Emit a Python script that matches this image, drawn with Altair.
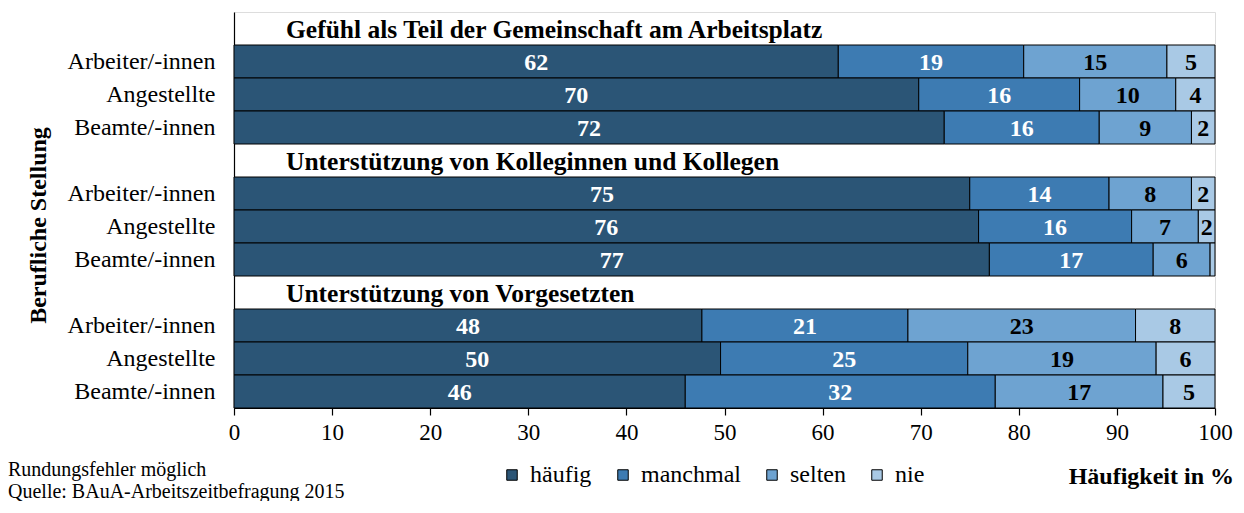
import altair as alt
import pandas as pd

categories = ["häufig", "manchmal", "selten", "nie"]
colors = ["#2b5576", "#3d7bb2", "#6ea3d1", "#a9c9e5"]
label_colors = ["white", "white", "black", "black"]
groups = [
    "Gefühl als Teil der Gemeinschaft am Arbeitsplatz",
    "Unterstützung von Kolleginnen und Kollegen",
    "Unterstützung von Vorgesetzten",
]
positions = ["Arbeiter/-innen", "Angestellte", "Beamte/-innen"]

# values per bar (3 groups x 3 positions), in %
haeufig = [61.6, 69.8, 72.4, 75.0, 75.9, 77.0, 47.7, 49.6, 46.0]
manchmal = [18.9, 16.4, 15.8, 14.2, 15.6, 16.7, 21.0, 25.2, 31.6]
selten = [14.6, 9.8, 9.4, 8.4, 6.8, 5.8, 23.2, 19.2, 17.1]
nie = [4.9, 4.0, 2.4, 2.4, 1.7, 0.5, 8.1, 6.0, 5.3]
series = [haeufig, manchmal, selten, nie]

xticks = list(range(0, 101, 10))
notes = ["Rundungsfehler möglich", "Quelle: BAuA-Arbeitszeitbefragung 2015"]

FONT = "Liberation Serif"

row_order = []
title_rows = []
bar_rows = []
for gi, g in enumerate(groups):
    tid = f"g{gi}"
    row_order.append(tid)
    title_rows.append({"row": tid, "title": g})
    for pi, p in enumerate(positions):
        rid = f"g{gi}|{p}"
        row_order.append(rid)
        idx = gi * 3 + pi
        start = 0.0
        for ci, c in enumerate(categories):
            v = series[ci][idx]
            bar_rows.append({
                "row": rid, "cat": c, "value": v,
                "start": start, "end": start + v, "mid": start + v / 2,
                "label": str(int(round(v))) if v >= 1 else "",
                "tcolor": label_colors[ci],
            })
            start += v

bars_df = pd.DataFrame(bar_rows)
titles_df = pd.DataFrame(title_rows)

yscale = alt.Scale(domain=row_order, paddingInner=0, paddingOuter=0)
xscale = alt.Scale(domain=[0, 100], nice=False)

yaxis = alt.Axis(
    title="Berufliche Stellung",
    labelExpr="indexof(datum.value, '|') >= 0 ? split(datum.value, '|')[1] : ''",
    ticks=False, labelPadding=19, labelFont=FONT, labelFontSize=24,
    labelColor="black", domainColor="black", domainWidth=1.2,
    titleFont=FONT, titleFontSize=24, titleFontWeight="bold", titleColor="black",
    titleX=-196, titleY=213, titleAngle=270, titleAlign="center", titleBaseline="middle",
)
xaxis = alt.Axis(
    values=xticks, title=None, tickSize=7, tickColor="black", tickWidth=1.2,
    domainColor="black", domainWidth=1.2, labelFont=FONT, labelFontSize=23,
    labelColor="black", labelPadding=6, grid=False, labelFlush=False,
)

bars = alt.Chart(bars_df).mark_bar(stroke="black", strokeWidth=1).encode(
    y=alt.Y("row:N", scale=yscale, axis=yaxis, sort=row_order),
    x=alt.X("start:Q", scale=xscale, axis=xaxis),
    x2="end:Q",
    color=alt.Color(
        "cat:N",
        scale=alt.Scale(domain=categories, range=colors),
        sort=categories,
        legend=alt.Legend(
            orient="none", legendX=266, legendY=451, direction="horizontal",
            title=None, symbolType="square", symbolSize=110,
            symbolStrokeColor="black", symbolStrokeWidth=1,
            labelFont=FONT, labelFontSize=24, labelColor="black",
            columnPadding=19, labelOffset=6,
        ),
    ),
)

labels = alt.Chart(bars_df).mark_text(
    font=FONT, fontSize=24, fontWeight="bold", baseline="middle", align="center", dy=1
).encode(
    y=alt.Y("row:N", scale=yscale, sort=row_order),
    x=alt.X("mid:Q", scale=xscale),
    text="label:N",
    color=alt.Color("tcolor:N", scale=None),
)

titles = alt.Chart(titles_df).mark_text(
    font=FONT, fontSize=25.5, fontWeight="bold", baseline="middle", align="left",
    color="black", dy=1,
).encode(
    y=alt.Y("row:N", scale=yscale, sort=row_order),
    x=alt.value(52),
    text="title:N",
)

note1 = alt.Chart(pd.DataFrame({"t": [notes[0]]})).mark_text(
    font=FONT, fontSize=20, align="left", baseline="alphabetic", color="black"
).encode(x=alt.value(-226), y=alt.value(464), text="t:N")

note2 = alt.Chart(pd.DataFrame({"t": [notes[1]]})).mark_text(
    font=FONT, fontSize=20, align="left", baseline="alphabetic", color="black"
).encode(x=alt.value(-226), y=alt.value(486), text="t:N")

xtitle = alt.Chart(pd.DataFrame({"t": ["Häufigkeit in %"]})).mark_text(
    font=FONT, fontSize=24, fontWeight="bold", align="right",
    baseline="alphabetic", color="black",
).encode(x=alt.value(1000), y=alt.value(472), text="t:N")

chart = alt.layer(bars, labels, titles, note1, note2, xtitle).properties(
    width=981, height=396,
    autosize=alt.AutoSizeParams(type="none"),
    padding={"left": 226, "top": 4, "right": 20, "bottom": 93},
).configure_view(stroke="#555", strokeWidth=1).configure(background="white")

chart.save("out.html", embed_options={"renderer": "svg", "actions": False})
